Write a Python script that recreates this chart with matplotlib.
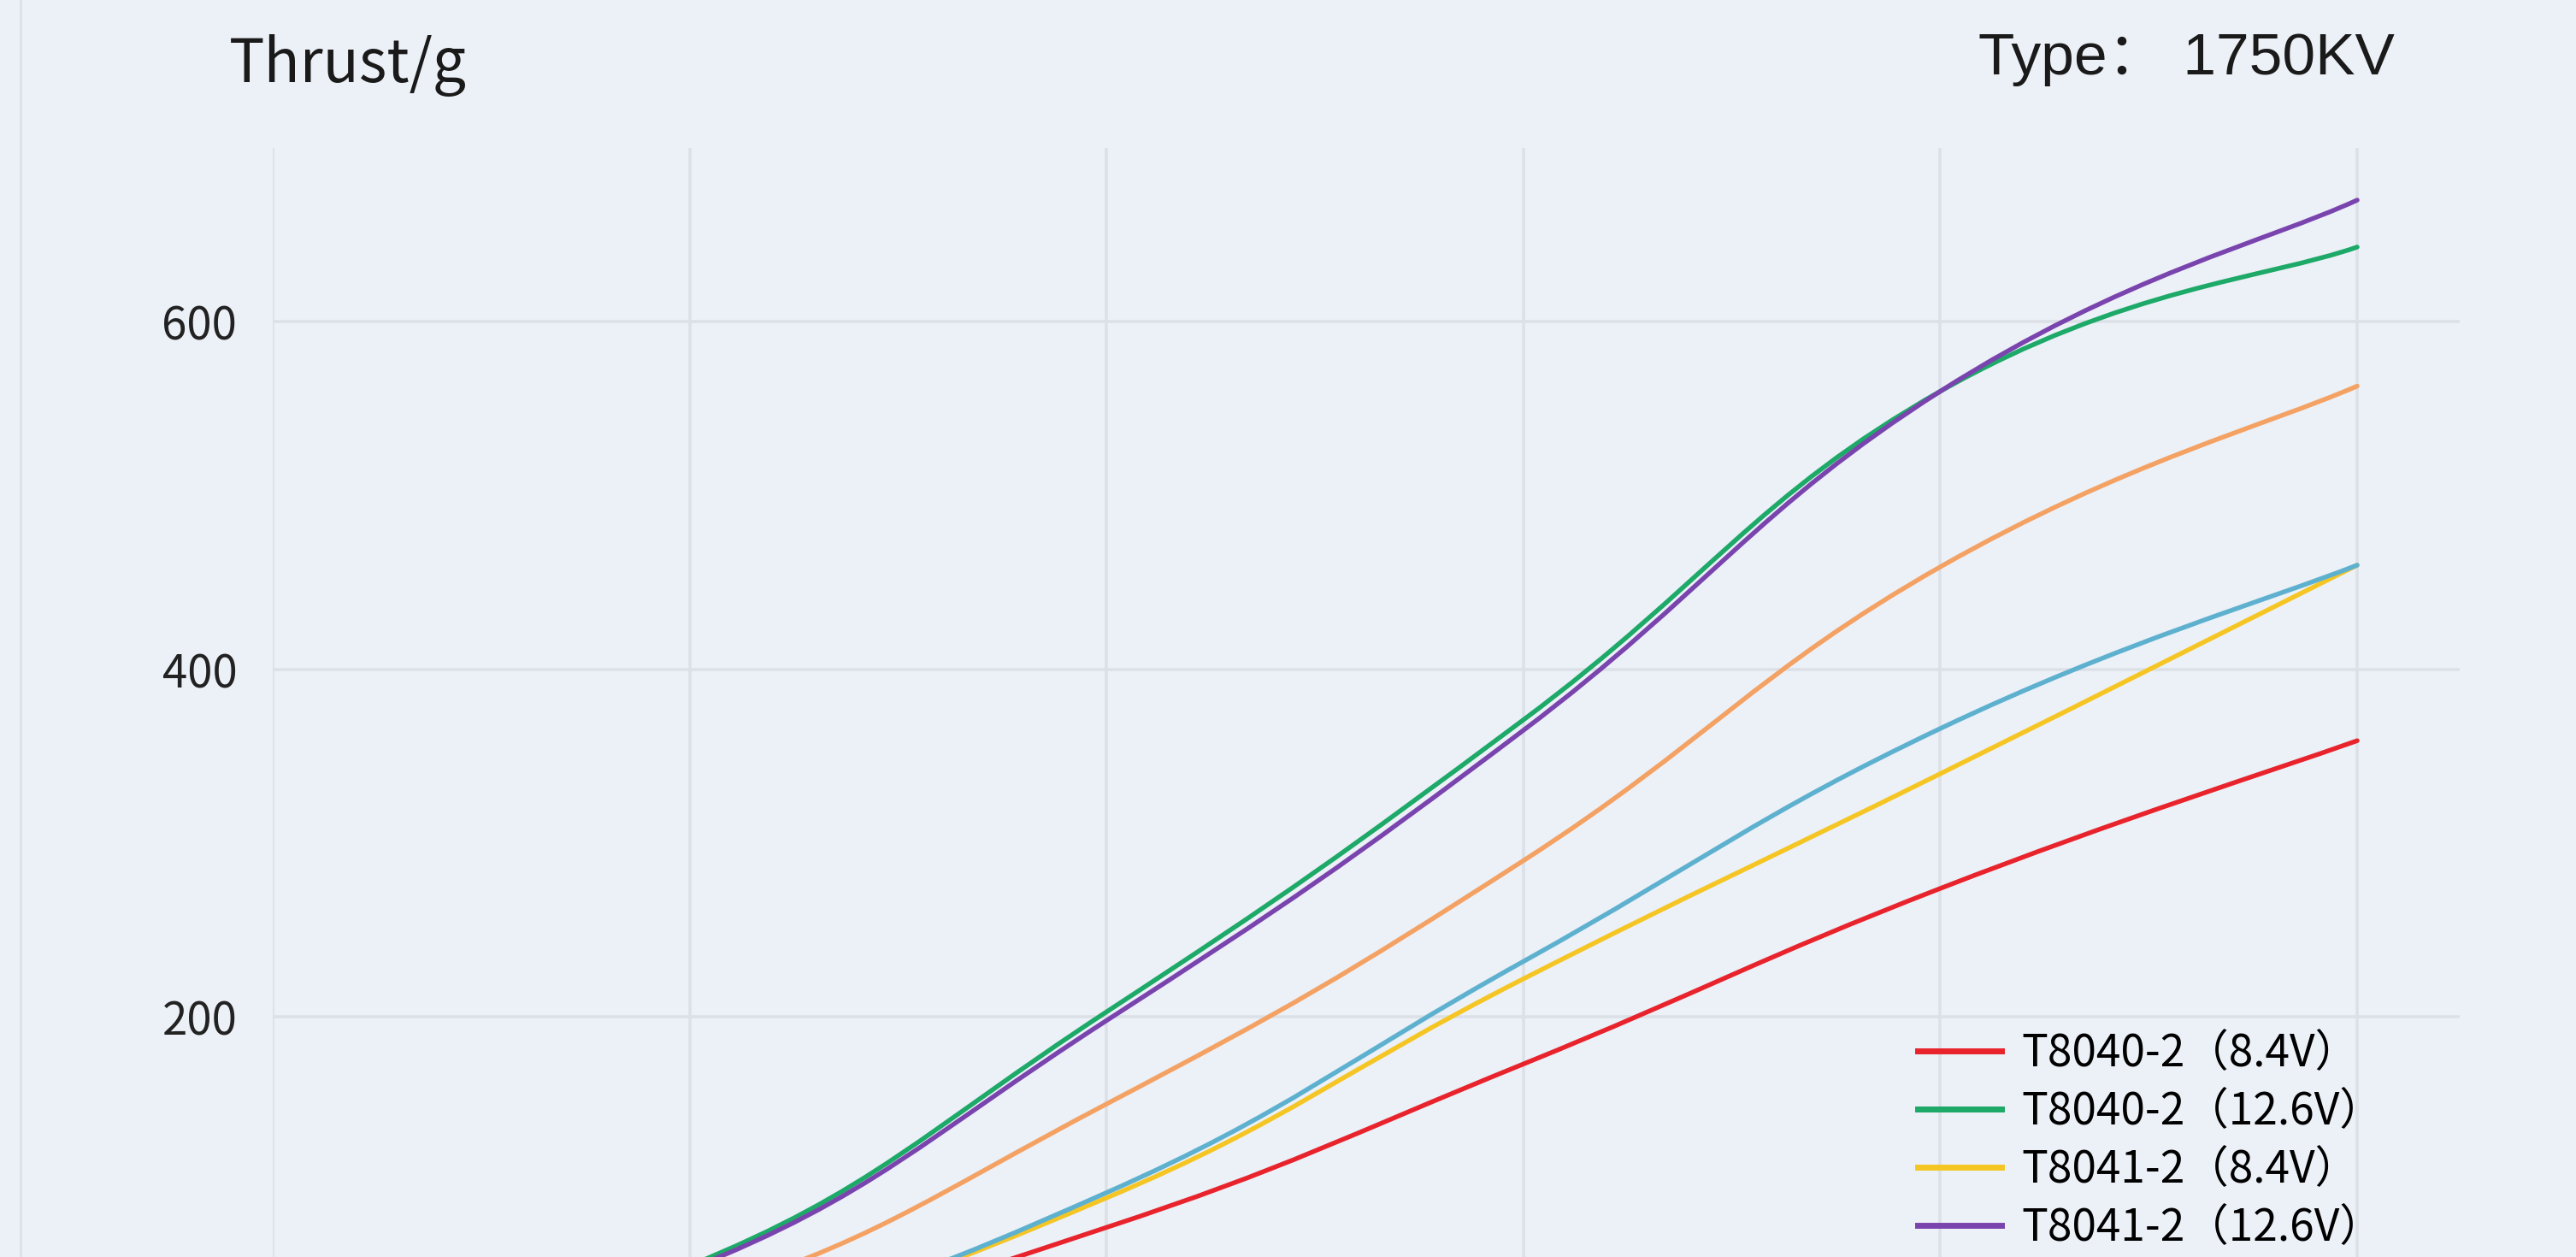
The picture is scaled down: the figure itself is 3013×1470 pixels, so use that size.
import matplotlib
matplotlib.use("Agg")
import matplotlib.pyplot as plt
from matplotlib.path import Path
from matplotlib.patches import PathPatch
from matplotlib.lines import Line2D

plt.rcParams['font.family'] = ['Noto Sans CJK SC', 'DejaVu Sans']

# throttle steps (one per vertical grid line) and thrust in grams
steps = [0, 1, 2, 3, 4, 5]
t8040_84 = [2, 15, 79, 173, 274, 359]
t8040_126 = [8, 57, 203, 371, 560, 643]
t8041_84 = [3, 20, 96, 222, 340, 460]
t8041_126 = [7, 55, 198, 365, 560, 670]
t9045_84 = [5, 38, 150, 290, 459, 563]
t7040_126 = [3, 20, 99, 232, 366, 460]

labels = ['T8040-2（8.4V）', 'T8040-2（12.6V）', 'T8041-2（8.4V）',
          'T8041-2（12.6V）', 'T9045-2（8.4V）', 'T7040-3（12.6V）']
colors = ['#E8232C', '#1DA968', '#F5C623', '#7A44AE', '#F4A263', '#5DB1CF']
series = [t8040_84, t8040_126, t8041_84, t8041_126, t9045_84, t7040_126]

bg = '#ECF0F7'
grid_c = '#DCE0E7'


def smooth_path(xs, ys, k=0.22):
    # cubic bezier through the points, echarts-like smoothing
    pts = list(zip(xs, ys))
    n = len(pts)
    verts = [pts[0]]
    codes = [Path.MOVETO]
    for i in range(n - 1):
        p0 = pts[i - 1] if i > 0 else pts[i]
        p1 = pts[i]
        p2 = pts[i + 1]
        p3 = pts[i + 2] if i + 2 < n else pts[i + 1]
        c1 = (p1[0] + (p2[0] - p0[0]) * k, p1[1] + (p2[1] - p0[1]) * k)
        c2 = (p2[0] - (p3[0] - p1[0]) * k, p2[1] - (p3[1] - p1[1]) * k)
        verts += [c1, c2, p2]
        codes += [Path.CURVE4] * 3
    return Path(verts, codes)


fig = plt.figure(figsize=(30.13, 14.70), dpi=100, facecolor=bg)
ax = fig.add_axes([0.10588, -0.0857, 0.84899, 0.968])
ax.set_facecolor(bg)

for ys, c, lab in zip(series, colors, labels):
    ax.add_patch(PathPatch(smooth_path(steps, ys), fill=False, edgecolor=c,
                           linewidth=3.9, capstyle='round', zorder=3))
    ax.plot([], [], color=c, linewidth=5, label=lab)

ax.set_xlim(0, 5.246)
ax.set_ylim(0, 700)
ax.set_xticks(steps)
ax.set_xticklabels([])
ax.set_yticks([200, 400, 600])
ax.tick_params(axis='both', length=0)
ax.tick_params(axis='y', labelsize=38, pad=30, labelcolor='#222222')
ax.grid(True, color=grid_c, linewidth=2.6)
for s in ax.spines.values():
    s.set_visible(False)

fig.text(0.0889, 0.935, 'Thrust/g', fontsize=50, color='#1a1a1a',
         ha='left', va='baseline')
fig.text(0.9297, 0.941, 'Type： 1750KV', fontsize=50, color='#1a1a1a',
         family=['Liberation Sans', 'Noto Sans CJK SC'],
         ha='right', va='baseline')

# thin border line at the left edge of the panel
fig.add_artist(Line2D([0.008, 0.008], [0, 1], color=grid_c, linewidth=2,
                      transform=fig.transFigure))

fig.legend(loc='upper left', bbox_to_anchor=(0.7445, 0.180), frameon=False,
           fontsize=37, handlelength=1.9, handletextpad=0.45,
           labelspacing=0.28, borderpad=0, borderaxespad=0)

fig.savefig('out.png', dpi=100, facecolor=bg)
